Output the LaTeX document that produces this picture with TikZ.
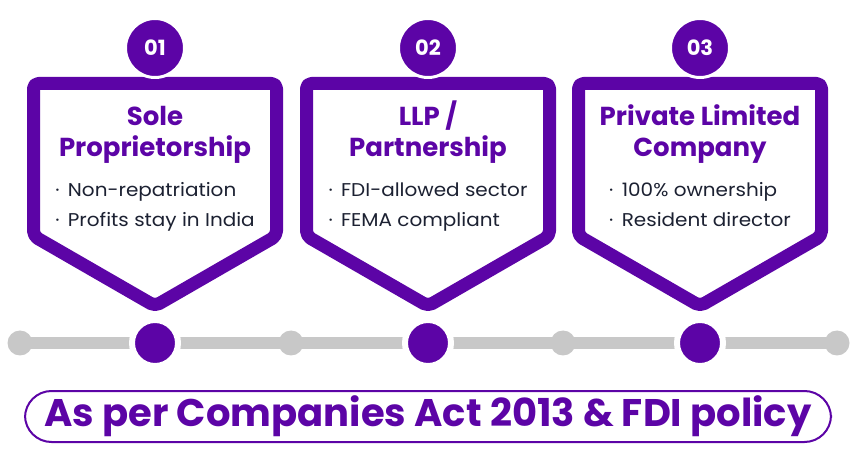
\documentclass[tikz,border=0pt]{standalone}
\usepackage{fontspec}
\setmainfont{Poppins}
\newfontfamily\pointfont[FakeStretch=1.08]{Poppins}
\usetikzlibrary{positioning}
\definecolor{brand}{RGB}{92,4,166}
\definecolor{railgray}{RGB}{200,200,200}
\definecolor{ink}{RGB}{28,33,50}
\tikzset{
  panel frame/.style={draw=brand, fill=white, line width=13pt, line join=round, rounded corners=5pt},
  step number/.style={circle, fill=brand, draw=white, line width=3pt, minimum size=59pt,
        inner sep=0pt, text=white, font=\bfseries\fontsize{21}{21}\selectfont},
  panel title/.style={anchor=base, align=center, text=brand, font=\bfseries\fontsize{26}{31}\selectfont},
  panel points/.style={anchor=base, align=left, text=ink, font=\pointfont\fontsize{18.5}{30}\selectfont},
  rail dot/.style={circle, fill=railgray, minimum size=25pt, inner sep=0pt},
  stop dot/.style={circle, fill=brand, draw=white, line width=6pt, minimum size=46pt, inner sep=0pt},
  policy pill/.style={draw=brand, line width=2pt, rounded corners=26.5pt, minimum width=806pt,
        minimum height=51pt, text=brand, font=\bfseries\fontsize{38.5}{38.5}\selectfont}
}
% #1 key, #2 centre x, #3 number, #4 title, #5 and #6 points
\def\CompanyPanel#1#2#3#4#5#6{%
  \draw[panel frame] (#2,83.5) -- (#2+121.5,83.5) -- (#2+121.5,236) -- (#2,306)
      -- (#2-121.5,236) -- (#2-121.5,83.5) -- cycle;
  \node[step number] (num#1) at (#2,48) {#3};
  \node[panel title] (title#1) at (#2,157) {#4};
  \node[panel points] (points#1) at (#2,227) {·\, #5\\·\, #6};
  \node[stop dot] (stop#1) at (#2,343) {};
}

\begin{document}
\begin{tikzpicture}[x=1pt, y=-1pt]
\useasboundingbox (0,0) rectangle (855,465);
% timeline
\node[rail dot] (rail0) at (20,343) {};
\node[rail dot] (rail1) at (291,343) {};
\node[rail dot] (rail2) at (563,343) {};
\node[rail dot] (rail3) at (837,343) {};
\draw[railgray, line width=12pt] (rail0.center) -- (rail3.center);

\CompanyPanel{1}{155}{01}{Sole\\Proprietorship}{Non-repatriation}{Profits stay in India}
\CompanyPanel{2}{428}{02}{LLP /\\Partnership}{FDI-allowed sector}{FEMA compliant}
\CompanyPanel{3}{700}{03}{Private Limited\\Company}{100\% ownership}{Resident director}

\node[policy pill] (policy) at (428,416.5) {As per Companies Act 2013 \& FDI policy};
\end{tikzpicture}
\end{document}
